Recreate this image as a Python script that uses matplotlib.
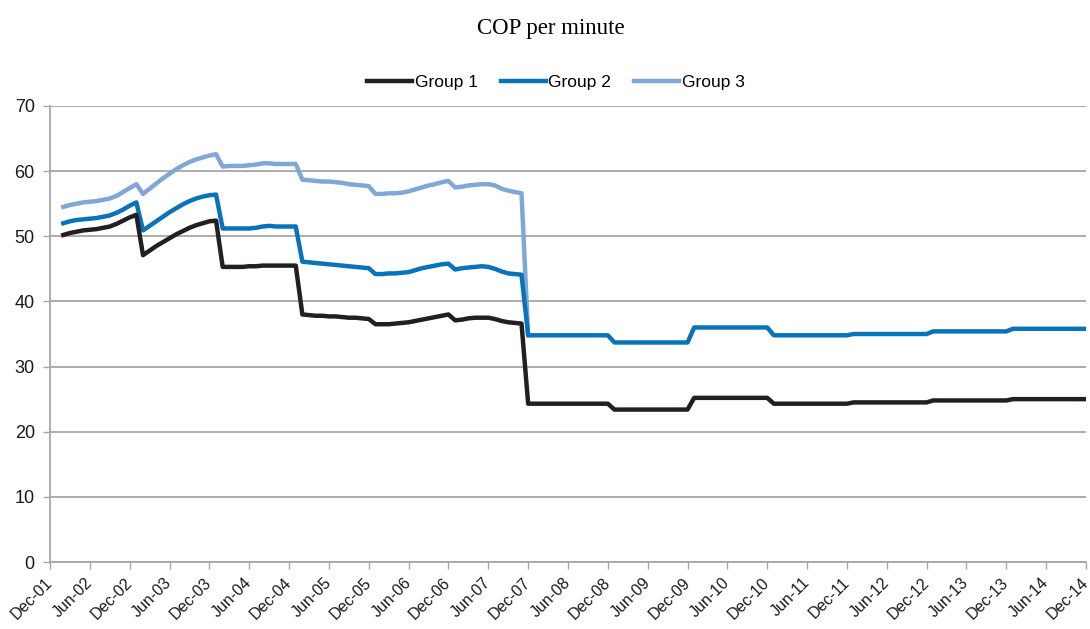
import numpy as np
import matplotlib
matplotlib.use("Agg")
import matplotlib.pyplot as plt
import matplotlib.transforms as mtransforms

# --- Data (monthly, x = months after Dec-01) ---
START_MONTH = 2
END_MONTH = 156

group1 = [
    50.2, 50.5, 50.7, 50.9, 51.0, 51.1, 51.3, 51.5, 51.9, 52.4, 52.9, 53.3,
    47.1, 47.8, 48.5, 49.1, 49.7, 50.3, 50.8, 51.3, 51.7, 52.0, 52.3, 52.4,
    45.3, 45.3, 45.3, 45.3, 45.4, 45.4, 45.5, 45.5, 45.5, 45.5, 45.5, 45.5,
    38.0, 37.9, 37.8, 37.8, 37.7, 37.7, 37.6, 37.5, 37.5, 37.4, 37.3,
    36.5, 36.5, 36.5, 36.6, 36.7, 36.8, 37.0, 37.2, 37.4, 37.6, 37.8, 38.0,
    37.1, 37.2, 37.4, 37.5, 37.5, 37.5, 37.3, 37.0, 36.8, 36.7, 36.6,
    24.3, 24.3, 24.3, 24.3, 24.3, 24.3, 24.3, 24.3, 24.3, 24.3, 24.3, 24.3, 24.3,
    23.4, 23.4, 23.4, 23.4, 23.4, 23.4, 23.4, 23.4, 23.4, 23.4, 23.4, 23.4,
    25.2, 25.2, 25.2, 25.2, 25.2, 25.2, 25.2, 25.2, 25.2, 25.2, 25.2, 25.2,
    24.3, 24.3, 24.3, 24.3, 24.3, 24.3, 24.3, 24.3, 24.3, 24.3, 24.3, 24.3,
    24.5, 24.5, 24.5, 24.5, 24.5, 24.5, 24.5, 24.5, 24.5, 24.5, 24.5, 24.5,
    24.8, 24.8, 24.8, 24.8, 24.8, 24.8, 24.8, 24.8, 24.8, 24.8, 24.8, 24.8,
    25.0, 25.0, 25.0, 25.0, 25.0, 25.0, 25.0, 25.0, 25.0, 25.0, 25.0, 25.0,
]

group2 = [
    52.0, 52.3, 52.5, 52.6, 52.7, 52.8, 53.0, 53.2, 53.6, 54.1, 54.7, 55.2,
    50.9, 51.6, 52.3, 53.0, 53.7, 54.3, 54.9, 55.4, 55.8, 56.1, 56.3, 56.4,
    51.2, 51.2, 51.2, 51.2, 51.2, 51.3, 51.5, 51.6, 51.5, 51.5, 51.5, 51.5,
    46.1, 46.0, 45.9, 45.8, 45.7, 45.6, 45.5, 45.4, 45.3, 45.2, 45.1,
    44.2, 44.2, 44.3, 44.3, 44.4, 44.5, 44.8, 45.1, 45.3, 45.5, 45.7, 45.8,
    44.9, 45.1, 45.2, 45.3, 45.4, 45.3, 45.0, 44.6, 44.3, 44.2, 44.1,
    34.8, 34.8, 34.8, 34.8, 34.8, 34.8, 34.8, 34.8, 34.8, 34.8, 34.8, 34.8, 34.8,
    33.7, 33.7, 33.7, 33.7, 33.7, 33.7, 33.7, 33.7, 33.7, 33.7, 33.7, 33.7,
    36.0, 36.0, 36.0, 36.0, 36.0, 36.0, 36.0, 36.0, 36.0, 36.0, 36.0, 36.0,
    34.8, 34.8, 34.8, 34.8, 34.8, 34.8, 34.8, 34.8, 34.8, 34.8, 34.8, 34.8,
    35.0, 35.0, 35.0, 35.0, 35.0, 35.0, 35.0, 35.0, 35.0, 35.0, 35.0, 35.0,
    35.4, 35.4, 35.4, 35.4, 35.4, 35.4, 35.4, 35.4, 35.4, 35.4, 35.4, 35.4,
    35.8, 35.8, 35.8, 35.8, 35.8, 35.8, 35.8, 35.8, 35.8, 35.8, 35.8, 35.8,
]

# Group 3 stops once it joins Group 2 (Dec-07)
group3 = [
    54.5, 54.8, 55.0, 55.2, 55.3, 55.4, 55.6, 55.8, 56.2, 56.8, 57.4, 58.0,
    56.5, 57.3, 58.1, 58.9, 59.6, 60.3, 60.9, 61.4, 61.8, 62.1, 62.4, 62.6,
    60.7, 60.8, 60.8, 60.8, 60.9, 61.0, 61.2, 61.2, 61.1, 61.1, 61.1, 61.1,
    58.7, 58.6, 58.5, 58.4, 58.4, 58.3, 58.2, 58.0, 57.9, 57.8, 57.7,
    56.5, 56.5, 56.6, 56.6, 56.7, 56.9, 57.2, 57.5, 57.8, 58.0, 58.3, 58.5,
    57.5, 57.6, 57.8, 57.9, 58.0, 58.0, 57.8, 57.3, 57.0, 56.8, 56.6,
    34.8,
]

tick_labels = [
    "Dec-01", "Jun-02", "Dec-02", "Jun-03", "Dec-03", "Jun-04", "Dec-04",
    "Jun-05", "Dec-05", "Jun-06", "Dec-06", "Jun-07", "Dec-07", "Jun-08",
    "Dec-08", "Jun-09", "Dec-09", "Jun-10", "Dec-10", "Jun-11", "Dec-11",
    "Jun-12", "Dec-12", "Jun-13", "Dec-13", "Jun-14", "Dec-14",
]

SANS = ["Liberation Sans", "DejaVu Sans"]
GRID = "#a6a6a6"

x1 = np.arange(START_MONTH, START_MONTH + len(group1))
x2 = np.arange(START_MONTH, START_MONTH + len(group2))
x3 = np.arange(START_MONTH, START_MONTH + len(group3))

fig = plt.figure(figsize=(10.9, 6.29), dpi=100)
ax = fig.add_axes([0.0459, 0.1065, 0.9504, 0.725])

ax.plot(x3, group3, color="#7fa8d9", linewidth=3.2, label="Group 3", zorder=3)
ax.plot(x2, group2, color="#0872ba", linewidth=3.2, label="Group 2", zorder=4)
ax.plot(x1, group1, color="#231f20", linewidth=3.2, label="Group 1", zorder=5)

ax.set_xlim(0, END_MONTH)
ax.set_ylim(0, 70)
ax.set_yticks(np.arange(0, 71, 10))
ax.set_xticks(np.arange(0, END_MONTH + 1, 6))
ax.set_xticklabels(tick_labels, rotation=45, ha="right", va="center",
                   rotation_mode="anchor", family=SANS, fontsize=11.5)
# nudge rotated labels a touch left so the last one stays inside the figure
shift = mtransforms.ScaledTranslation(-3 / 72, 0, fig.dpi_scale_trans)
for lbl in ax.get_xticklabels():
    lbl.set_transform(lbl.get_transform() + shift)
for lbl in ax.get_yticklabels():
    lbl.set_family(SANS)
    lbl.set_fontsize(13)

ax.grid(axis="y", color=GRID, linewidth=1.3)
ax.set_axisbelow(True)
for side in ["top", "right"]:
    ax.spines[side].set_visible(False)
for side in ["left", "bottom"]:
    ax.spines[side].set_color(GRID)
    ax.spines[side].set_linewidth(1.3)
ax.tick_params(axis="both", colors=GRID, length=5, width=1.0, labelcolor="#1a1a1a")
ax.tick_params(axis="x", pad=8)
ax.tick_params(axis="y", pad=6)

handles, labels = ax.get_legend_handles_labels()
order = [2, 1, 0]
fig.legend([handles[i] for i in order], [labels[i] for i in order],
           loc="center", bbox_to_anchor=(0.51, 0.869), ncol=3, frameon=False,
           prop={"family": SANS, "size": 12.5}, handlelength=2.6,
           handletextpad=0.15, columnspacing=1.3)

fig.text(0.505, 0.955, "COP per minute", ha="center", va="center",
         family=["Liberation Serif", "DejaVu Serif"], fontsize=16.5)

fig.savefig("out.png", dpi=100)
